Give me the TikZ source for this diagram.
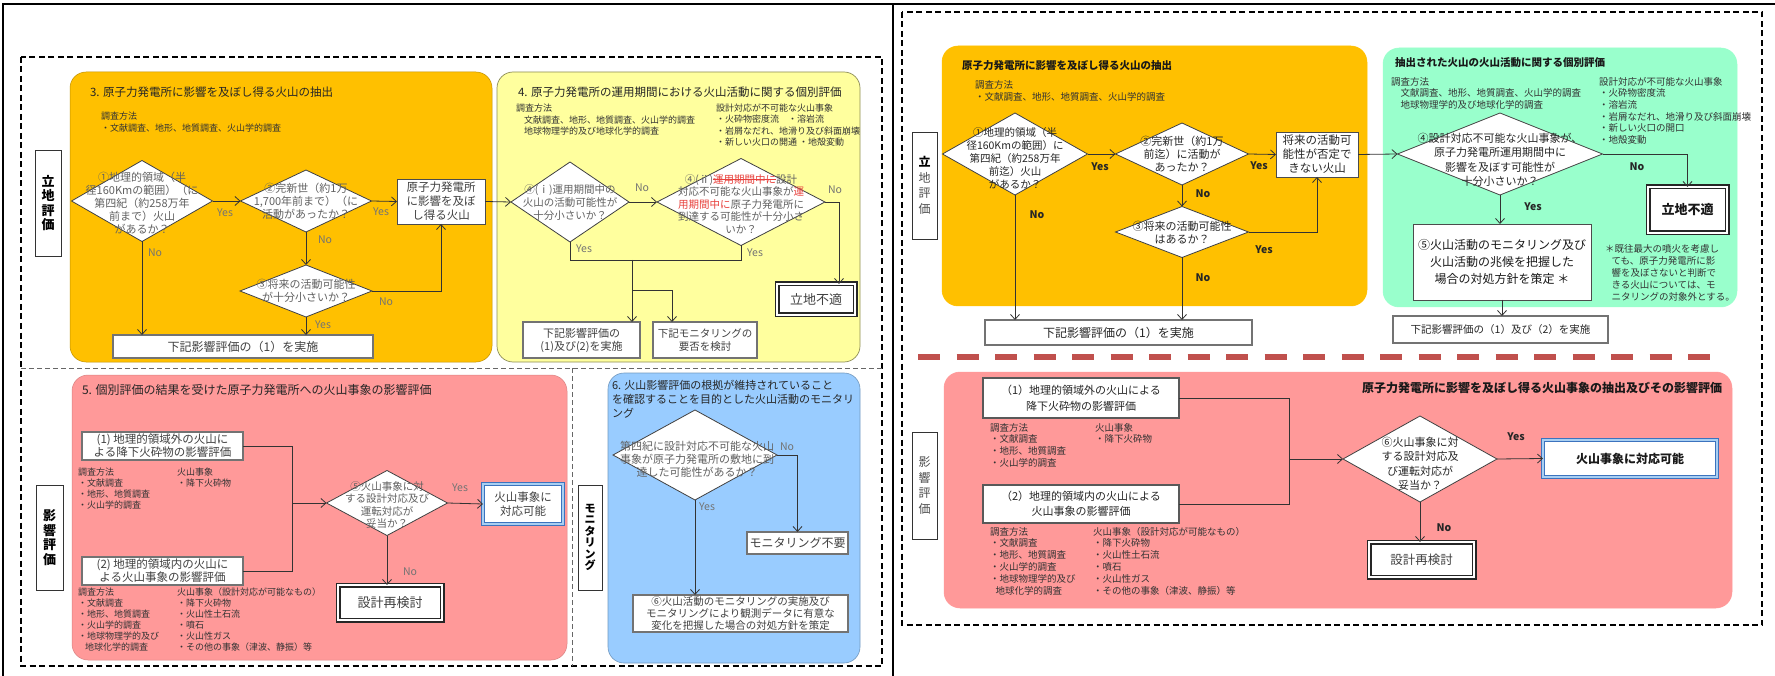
\documentclass[tikz,border=0pt]{standalone}
\usepackage{fontspec}
\setmainfont{Noto Sans CJK JP}
\usetikzlibrary{shapes.geometric,arrows.meta}
\newcommand{\fsz}[2]{\fontsize{#1}{#2}\selectfont}
\definecolor{c3}{HTML}{FFC000}
\definecolor{c4}{HTML}{FFFF9E}
\definecolor{c5}{HTML}{FF9999}
\definecolor{c6}{HTML}{99CCFF}
\definecolor{cg}{HTML}{99FFCC}
\definecolor{bluebd}{HTML}{3C73BE}
\definecolor{bluein}{HTML}{A8CFF2}
\definecolor{redtxt}{HTML}{E8413C}
\definecolor{reddash}{HTML}{C0504D}
\newcommand{\redstrike}[1]{\begingroup\color{redtxt}\setbox0\hbox{#1}\rlap{\rule[0.32em]{\wd0}{0.6pt}}\box0\endgroup}
\begin{document}
\begin{tikzpicture}[x=1pt,y=-1pt,
  every node/.style={inner sep=0pt,outer sep=0pt},
  dia/.style={diamond, draw=black!75, fill=white, line width=0.8pt},
  dtx/.style={align=center, text=black!62},
  dtr/.style={align=center, text=black!85},
  gbox/.style={draw=black!55, line width=2pt, fill=white, align=center, text=black!75},
  tbox/.style={draw=black!85, line width=1.5pt, double=white, double distance=2pt, fill=white, align=center, text=black!75},
  bbox/.style={draw=bluebd, line width=1.5pt, double=bluein, double distance=1.6pt, fill=white, align=center, text=black!75},
  sbox/.style={draw=black!70, line width=0.9pt, fill=white, align=center, text=black!75},
  vbox/.style={draw=black!80, line width=0.8pt, fill=white, align=center},
  arr/.style={draw=black!80, line width=0.8pt, -{Straight Barb[length=5pt,width=9pt]}},
  ln/.style={draw=black!80, line width=0.8pt},
  yn/.style={text=black!55, font=\fsz{10.5}{12}},
  ynr/.style={text=black!85, font=\bfseries\fsz{10.5}{12}},
  txt/.style={anchor=north west, align=left, text=black!80},
  panel/.style={rounded corners=16pt}]
\useasboundingbox (0,0) rectangle (1775,676);
\fill[white] (0,0) rectangle (1775,676);

% ---------- frames ----------
\draw[line width=1.6pt] (3,676) -- (3,4) -- (1775,4);
\draw[line width=1.6pt] (893,4) -- (893,676);
\draw[line width=1.5pt, dash pattern=on 6pt off 3.5pt] (21,57) rectangle (882,666);
\draw[line width=1.5pt, dash pattern=on 6pt off 3.5pt] (902,12) rectangle (1762,625);
\draw[line width=0.9pt, black!60, dash pattern=on 5pt off 3pt] (21,368) -- (882,368);
\draw[line width=0.9pt, black!60, dash pattern=on 5pt off 3pt] (572,368) -- (572,666);

% ---------- left panels ----------
\filldraw[panel, fill=c3, draw=c3!75!black, line width=0.5pt] (70,72) rectangle (492,362);
\filldraw[panel, fill=c4, draw=c4!55!black, line width=0.7pt] (497,72) rectangle (860,362);
\filldraw[panel, fill=c5, draw=c5!85!black, line width=0.5pt] (72,375) rectangle (567,660);
\filldraw[panel, fill=c6, draw=c6!75!black, line width=0.6pt] (608,373) rectangle (860,663);

% vertical labels left
\node[vbox, minimum width=26, minimum height=106, font=\bfseries\fsz{13}{14.5}] (L1) at (48,203) {立\\地\\評\\価};
\node[vbox, minimum width=27, minimum height=105, font=\bfseries\fsz{13}{14.5}] (L2) at (49.5,537.5) {影\\響\\評\\価};
\node[vbox, minimum width=24, minimum height=105, font=\bfseries\fsz{11}{11.5}] (L3) at (590,537.5) {モ\\ニ\\タ\\リ\\ン\\グ};

% ---------- section 3 ----------
\node[anchor=west, text=black!85, font=\fsz{11.5}{13}] (t3) at (90,92) {3. 原子力発電所に影響を及ぼし得る火山の抽出};
\node[txt, font=\fsz{9}{11.5}] (s3) at (101,112) {調査方法\\・文献調査、地形、地質調査、火山学的調査};

\node[dia, minimum width=141, minimum height=81] (d1) at (142,201) {};
\node[dtx, font=\fsz{11}{13}] (d1t) at (142,203) {①地理的領域（半\\径160Kmの範囲）（に\\第四紀（約258万年\\前まで）火山\\があるか？};
\node[dia, minimum width=131, minimum height=62] (d2) at (306,201) {};
\node[dtx, font=\fsz{11}{13}] (d2t) at (306,201) {②完新世（約1万\\1,700年前まで）（に\\活動があったか？};
\node[dia, minimum width=132, minimum height=52] (d3) at (306,291) {};
\node[dtx, font=\fsz{11}{13}] (d3t) at (306,291) {③将来の活動可能性\\が十分小さいか？};
\node[sbox, minimum width=88, minimum height=45, font=\fsz{11.5}{14}] (b1) at (441,201.5) {原子力発電所\\に影響を及ぼ\\し得る火山};
\node[gbox, minimum width=260, minimum height=23, font=\fsz{12}{13}] (b2) at (243,346.5) {下記影響評価の（1）を実施};

\draw[arr] (d1.east) -- (d2.west);
\node[yn] (y1) at (225,213) {Yes};
\draw[arr] (d1.south) -- (d1.south |- b2.north);
\node[yn] (n1) at (155,253) {No};
\draw[arr] (d2.east) -- (b1.west);
\node[yn] (y2) at (381,212) {Yes};
\draw[arr] (d2.south) -- (d3.north);
\node[yn] (n2) at (325,240) {No};
\draw[arr] (d3.east) -| (b1.south);
\node[yn] (n3) at (386,302) {No};
\draw[arr] (d3.south) -- (d3.south |- b2.north);
\node[yn] (y3) at (323,325) {Yes};

% ---------- section 4 ----------
\node[anchor=west, text=black!85, font=\fsz{11.5}{13}] (t4) at (518,92) {4. 原子力発電所の運用期間における火山活動に関する個別評価};
\node[txt, font=\fsz{9}{11.5}] (s4a) at (516,104) {調査方法\\\hspace{0.9em}文献調査、地形、地質調査、火山学的調査\\\hspace{0.9em}地球物理学的及び地球化学的調査};
\node[txt, font=\fsz{9}{11.3}] (s4b) at (716,104) {設計対応が不可能な火山事象\\・火砕物密度流　・溶岩流\\・岩屑なだれ、地滑り及び斜面崩壊\\・新しい火口の開通 ・地殻変動};

\node[dia, minimum width=118, minimum height=80] (q1) at (570,202) {};
\node[dtx, font=\fsz{10.5}{13}] (q1t) at (570,203) {④(ⅰ)運用期間中の\\火山の活動可能性が\\十分小さいか？};
\node[dia, minimum width=168, minimum height=87] (q2) at (741,202) {};
\node[dtx, font=\fsz{10.5}{12.5}] (q2t) at (741,204) {④(ⅱ)\redstrike{運用期間中に}設計\\対応不可能な火山事象が\textcolor{redtxt}{運}\\\textcolor{redtxt}{用期間中に}原子力発電所に\\到達する可能性が十分小さ\\いか？};
\node[tbox, minimum width=78, minimum height=31, font=\fsz{13}{14}] (r1) at (816,299.5) {立地不適};
\node[gbox, minimum width=117, minimum height=36, font=\fsz{11}{13}] (c1) at (581.5,340) {下記影響評価の\\(1)及び(2)を実施};
\node[gbox, minimum width=104, minimum height=36, font=\fsz{10.5}{13}] (c2) at (705,340) {下記モニタリングの\\要否を検討};

\draw[arr] (b1.east) -- (q1.west);
\draw[arr] (q1.east) -- (q2.west);
\node[yn] (n4) at (642,188) {No};
\coordinate (q2o) at (839,202);
\draw[arr] (q2.east) -- (q2o) -- (q2o |- r1.north);
\node[yn] (n5) at (835,190) {No};
\draw[ln] (q1.south) -- ++(0,18) -| (q2.south);
\node[yn] (y4) at (584,249) {Yes};
\node[yn] (y5) at (755,253) {Yes};
\coordinate (yj) at (632,260);
\draw[arr] (yj) -- (yj |- c1.north);
\coordinate (yk) at (632,290);
\coordinate (yk2) at (672,290);
\draw[arr] (yk) -- (yk2) -- (yk2 |- c2.north);

% ---------- section 5 ----------
\node[anchor=west, text=black!85, font=\fsz{12}{13}] (t5) at (82,390) {5. 個別評価の結果を受けた原子力発電所への火山事象の影響評価};
\node[gbox, minimum width=161, minimum height=28, font=\fsz{11.5}{13}] (p1) at (162.5,446) {(1) 地理的領域外の火山に\\よる降下火砕物の影響評価};
\node[gbox, minimum width=161, minimum height=28, font=\fsz{11.5}{13}] (p2) at (162.5,571) {(2) 地理的領域内の火山に\\よる火山事象の影響評価};
\node[txt, font=\fsz{9}{11}] (s5a) at (78,468) {調査方法\\・文献調査\\・地形、地質調査\\・火山学的調査};
\node[txt, font=\fsz{9}{11}] (s5b) at (177,468) {火山事象\\・降下火砕物};
\node[txt, font=\fsz{9}{11}] (s5c) at (78,588) {調査方法\\・文献調査\\・地形、地質調査\\・火山学的調査\\・地球物理学的及び\\\hspace{0.8em}地球化学的調査};
\node[txt, font=\fsz{9}{11}] (s5d) at (177,588) {火山事象（設計対応が可能なもの）\\・降下火砕物\\・火山性土石流\\・噴石\\・火山性ガス\\・その他の事象（津波、静振）等};

\node[dia, minimum width=121, minimum height=65] (d5) at (387,503) {};
\node[dtx, font=\fsz{10.5}{12.5}] (d5t) at (387,505) {⑤火山事象に対\\する設計対応及び\\運転対応が\\妥当か？};
\node[bbox, minimum width=80, minimum height=40, font=\fsz{11.5}{14}] (e1) at (523,504) {火山事象に\\対応可能};
\node[tbox, minimum width=104, minimum height=35, font=\fsz{13}{14}] (e2) at (390,602.5) {設計再検討};
\coordinate (pj) at (292,503);
\draw[ln] (p1.east) -| (pj);
\draw[ln] (p2.east) -| (pj);
\draw[arr] (pj) -- (d5.west);
\draw[arr] (d5.east) -- (e1.west);
\node[yn] (y6) at (460,488) {Yes};
\draw[arr] (d5.south) -- (d5.south |- e2.north);
\node[yn] (n6) at (410,572) {No};

% ---------- section 6 ----------
\node[txt, text=black!85, font=\fsz{11}{14}] (t6) at (612,380) {6. 火山影響評価の根拠が維持されていること\\を確認することを目的とした火山活動のモニタリ\\ング};
\node[dia, minimum width=164, minimum height=90] (m1) at (695,455) {};
\node[dtx, font=\fsz{11}{13}] (m1t) at (697,459) {第四紀に設計対応不可能な火山\\事象が原子力発電所の敷地に到\\達した可能性があるか？};
\node[gbox, minimum width=101, minimum height=22, font=\fsz{12}{13}] (m2) at (797.5,543) {モニタリング不要};
\node[gbox, minimum width=215, minimum height=37, font=\fsz{10.5}{12}] (m3) at (740.5,613.5) {⑥火山活動のモニタリングの実施及び\\モニタリングにより観測データに有意な\\変化を把握した場合の対処方針を策定};
\draw[arr] (m1.east) -| (m2.north);
\node[yn] (n7) at (787,447) {No};
\draw[arr] (m1.south) -- (m1.south |- m3.north);
\node[yn] (y7) at (707,507) {Yes};

% ---------- right side ----------
\draw[draw=reddash, line width=6pt, dash pattern=on 22pt off 16.5pt] (918,357) -- (1712,357);
\filldraw[panel, fill=c3, draw=c3, line width=0.5pt] (942,46) rectangle (1367,306);
\filldraw[panel, fill=cg, draw=cg, line width=0.5pt] (1383,48) rectangle (1737,307);
\filldraw[panel, fill=c5, draw=c5, line width=0.5pt] (944,372) rectangle (1732,608);

\node[vbox, minimum width=25, minimum height=107, text=black!70, font=\fsz{12}{15.5}] (R1) at (924.5,185.5) {{\bfseries\color{black}立}\\地\\評\\価};
\node[vbox, minimum width=25, minimum height=107, text=black!70, font=\fsz{12}{15.5}] (R2) at (924.5,485.5) {影\\響\\評\\価};

% right orange
\node[anchor=west, text=black!90, font=\bfseries\fsz{10.5}{12}] (T1) at (962,66) {原子力発電所に影響を及ぼし得る火山の抽出};
\node[txt, font=\fsz{9.5}{12.5}] (S1) at (975,80) {調査方法\\・文献調査、地形、地質調査、火山学的調査};
\node[dia, minimum width=145, minimum height=82] (D1) at (1015,154) {};
\node[dtr, font=\fsz{10.5}{13}] (D1t) at (1015,158) {①地理的領域（半\\径160Kmの範囲）に\\第四紀（約258万年\\前迄）火山\\があるか？};
\node[dia, minimum width=133, minimum height=62] (D2) at (1182,154) {};
\node[dtr, font=\fsz{11}{13}] (D2t) at (1182,154) {②完新世（約1万\\前迄）に活動が\\あったか？};
\node[dia, minimum width=133, minimum height=51] (D3) at (1182,232) {};
\node[dtr, font=\fsz{11}{13}] (D3t) at (1182,233) {③将来の活動可能性\\はあるか？};
\node[sbox, minimum width=82, minimum height=45, text=black!85, font=\fsz{11.5}{14}] (B1) at (1317,154.5) {将来の活動可\\能性が否定で\\きない火山};
\node[gbox, minimum width=267, minimum height=25, text=black!85, font=\fsz{12}{13}] (B2) at (1118.5,332.5) {下記影響評価の（1）を実施};
\draw[arr] (D1.east) -- (D2.west);
\node[ynr] (Y1) at (1100,167) {Yes};
\draw[arr] (D1.south) -- (D1.south |- B2.north);
\node[ynr] (N1) at (1037,215) {No};
\draw[arr] (D2.east) -- (B1.west);
\node[ynr] (Y2) at (1259,166) {Yes};
\draw[arr] (D2.south) -- (D3.north);
\node[ynr] (N2) at (1203,194) {No};
\draw[arr] (D3.east) -| (B1.south);
\node[ynr] (Y3) at (1264,250) {Yes};
\draw[arr] (D3.south) -- (D3.south |- B2.north);
\node[ynr] (N3) at (1203,278) {No};

% right green
\node[anchor=west, text=black!90, font=\bfseries\fsz{10.5}{12}] (T2) at (1395,63) {抽出された火山の火山活動に関する個別評価};
\node[txt, font=\fsz{9.5}{11.5}] (S2a) at (1391,77) {調査方法\\\hspace{1em}文献調査、地形、地質調査、火山学的調査\\\hspace{1em}地球物理学的及び地球化学的調査};
\node[txt, font=\fsz{9.5}{11.7}] (S2b) at (1599,77) {設計対応が不可能な火山事象\\・火砕物密度流\\・溶岩流\\・岩屑なだれ、地滑り及び斜面崩壊\\・新しい火口の開口\\・地殻変動};
\node[dia, minimum width=205, minimum height=82] (G1) at (1500,154) {};
\node[dtr, font=\fsz{11}{14.5}] (G1t) at (1500,160) {④設計対応不可能な火山事象が、\\原子力発電所運用期間中に\\影響を及ぼす可能性が\\十分小さいか？};
\node[tbox, minimum width=79, minimum height=46, text=black!90, font=\bfseries\fsz{13}{14}] (GR) at (1687.5,210) {立地不適};
\node[sbox, minimum width=178, minimum height=76, text=black!90, font=\fsz{12}{17}] (G5) at (1502,262) {⑤火山活動のモニタリング及び\\火山活動の兆候を把握した\\場合の対処方針を策定 ＊};
\node[txt, font=\fsz{9.5}{11.8}] (S2c) at (1605,245) {＊既往最大の噴火を考慮し\\\hspace{0.7em}ても、原子力発電所に影\\\hspace{0.7em}響を及ぼさないと判断で\\\hspace{0.7em}きる火山については、モ\\\hspace{0.7em}ニタリングの対象外とする。};
\node[gbox, minimum width=215, minimum height=27, text=black!85, font=\fsz{10.5}{12}] (G6) at (1500.5,329.5) {下記影響評価の（1）及び（2）を実施};
\draw[arr] (B1.east) -- (G1.west);
\draw[arr] (G1.east) -| (GR.north);
\node[ynr] (N4) at (1637,167) {No};
\draw[arr] (G1.south) -- (G1.south |- G5.north);
\node[ynr] (Y4) at (1533,207) {Yes};
\draw[arr] (G5.south) -- (G5.south |- G6.north);

% right pink
\node[anchor=east, text=black!90, font=\bfseries\fsz{12}{13}] (T3) at (1722,388) {原子力発電所に影響を及ぼし得る火山事象の抽出及びその影響評価};
\node[gbox, line width=2.4pt, draw=black!65, minimum width=196, minimum height=40, text=black!85, font=\fsz{11}{16}] (Q1) at (1081,398) {（1）地理的領域外の火山による\\降下火砕物の影響評価};
\node[gbox, line width=2.4pt, draw=black!65, minimum width=196, minimum height=38, text=black!85, font=\fsz{11}{15}] (Q2) at (1081,504) {（2）地理的領域内の火山による\\火山事象の影響評価};
\node[txt, font=\fsz{9.5}{11.8}] (S3a) at (990,423) {調査方法\\・文献調査\\・地形、地質調査\\・火山学的調査};
\node[txt, font=\fsz{9.5}{11.8}] (S3b) at (1095,423) {火山事象\\・降下火砕物};
\node[txt, font=\fsz{9.5}{11.8}] (S3c) at (990,527) {調査方法\\・文献調査\\・地形、地質調査\\・火山学的調査\\・地球物理学的及び\\\hspace{0.6em}地球化学的調査};
\node[txt, font=\fsz{9.5}{11.8}] (S3d) at (1093,527) {火山事象（設計対応が可能なもの）\\・降下火砕物\\・火山性土石流\\・噴石\\・火山性ガス\\・その他の事象（津波、静振）等};
\node[dia, minimum width=154, minimum height=86] (F6) at (1420,459) {};
\node[dtr, font=\fsz{11}{14.5}] (F6t) at (1420,464) {⑥火山事象に対\\する設計対応及\\び運転対応が\\妥当か？};
\node[bbox, minimum width=174, minimum height=37, text=black!90, font=\bfseries\fsz{12}{13}] (FA) at (1630,458.5) {火山事象に対応可能};
\node[tbox, minimum width=105, minimum height=35, font=\fsz{12.5}{14}] (FB) at (1421.5,559.5) {設計再検討};
\coordinate (qj) at (1289,459);
\draw[ln] (Q1.east) -| (qj);
\draw[ln] (Q2.east) -| (qj);
\draw[arr] (qj) -- (F6.west);
\draw[arr] (F6.east) -- (FA.west);
\node[ynr] (Y5) at (1516,437) {Yes};
\draw[arr] (F6.south) -- (F6.south |- FB.north);
\node[ynr] (N5) at (1444,528) {No};
\end{tikzpicture}
\end{document}
